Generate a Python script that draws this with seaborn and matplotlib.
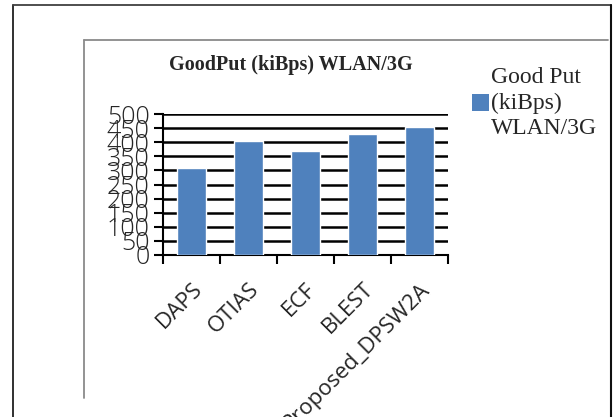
import matplotlib
matplotlib.use("Agg")
import matplotlib.pyplot as plt
from matplotlib.lines import Line2D
from matplotlib.patches import Patch
import seaborn as sns
import numpy as np

# GoodPut per scheduler (kiBps), WLAN/3G
schemes = ["DAPS", "OTIAS", "ECF", "BLEST", "Proposed_DPSW2A"]
goodput = [307, 405, 369, 428, 454]
y_ticks = [0, 50, 100, 150, 200, 250, 300, 350, 400, 450, 500]
title = "GoodPut (kiBps) WLAN/3G"
legend_label = "Good Put\n(kiBps)\nWLAN/3G"

bar_color = "#4F81BD"

sns.set_theme(style="white")
plt.rcParams["font.family"] = ["DejaVu Sans"]

W, H = 614, 417
fig = plt.figure(figsize=(W / 100, H / 100), dpi=100)
fig.patch.set_facecolor("white")

def fx(px):
    return px / W

def fy(py):
    return 1 - py / H

# page frame and chart-area frame
fig.add_artist(Line2D([fx(13), fx(13)], [fy(5), fy(420)], color="#202020", lw=1.3))
fig.add_artist(Line2D([fx(13), fx(611)], [fy(5), fy(5)], color="#404040", lw=1.3))
fig.add_artist(Line2D([fx(611), fx(611)], [fy(5), fy(420)], color="#101010", lw=1.5))
fig.add_artist(Line2D([fx(84), fx(608)], [fy(40), fy(40)], color="#8a8a8a", lw=1.3))
fig.add_artist(Line2D([fx(84), fx(84)], [fy(40), fy(398)], color="#8a8a8a", lw=1.3))

ax = fig.add_axes([fx(163), fy(255), fx(448) - fx(163), (255 - 114) / H])
ax.set_facecolor("white")

sns.barplot(x=schemes, y=goodput, color=bar_color, width=0.5, ax=ax,
            saturation=1, zorder=3)

ax.set_xlim(-0.5, len(schemes) - 0.5)
ax.set_ylim(y_ticks[0], y_ticks[-1])
ax.set_yticks(y_ticks)
ax.set_yticklabels([str(v) for v in y_ticks], fontsize=18,
                   family=["Open Sans", "DejaVu Sans"], fontweight="light")

ax.yaxis.grid(True, color="black", lw=1.8, zorder=1)
ax.xaxis.grid(False)
ax.set_axisbelow(True)

for s in ["top", "right"]:
    ax.spines[s].set_visible(False)
for s in ["left", "bottom"]:
    ax.spines[s].set_color("black")
    ax.spines[s].set_linewidth(1.5)

ax.tick_params(axis="y", direction="out", length=6.5, width=1.5, color="black",
               left=True, pad=3)
# category boundary ticks on the x axis
ax.set_xticks(np.arange(-0.5, len(schemes)), minor=True)
ax.tick_params(axis="x", which="minor", direction="out", length=6.5, width=1.5,
               color="black", bottom=True)
ax.tick_params(axis="x", which="major", length=0, pad=17)
ax.set_xticks(range(len(schemes)))
ax.set_xticklabels(schemes, rotation=45, ha="right", rotation_mode="anchor",
                   fontsize=16, family=["Open Sans", "DejaVu Sans"])
ax.set_xlabel("")
ax.set_ylabel("")

fig.text(fx(291), fy(65), title, ha="center", va="center", fontsize=14.5,
         fontweight="bold", family=["Liberation Serif", "DejaVu Serif"])

leg = fig.legend(handles=[Patch(facecolor=bar_color, edgecolor="none",
                                label=legend_label)],
                 loc="center left", bbox_to_anchor=(fx(463), fy(103)),
                 frameon=False, handlelength=0.7, handleheight=0.7,
                 handletextpad=0.1, borderaxespad=0,
                 prop={"family": ["Liberation Serif", "DejaVu Serif"], "size": 17})
for t in leg.get_texts():
    t.set_linespacing(1.3)

fig.savefig("out.png", dpi=100, facecolor="white")
